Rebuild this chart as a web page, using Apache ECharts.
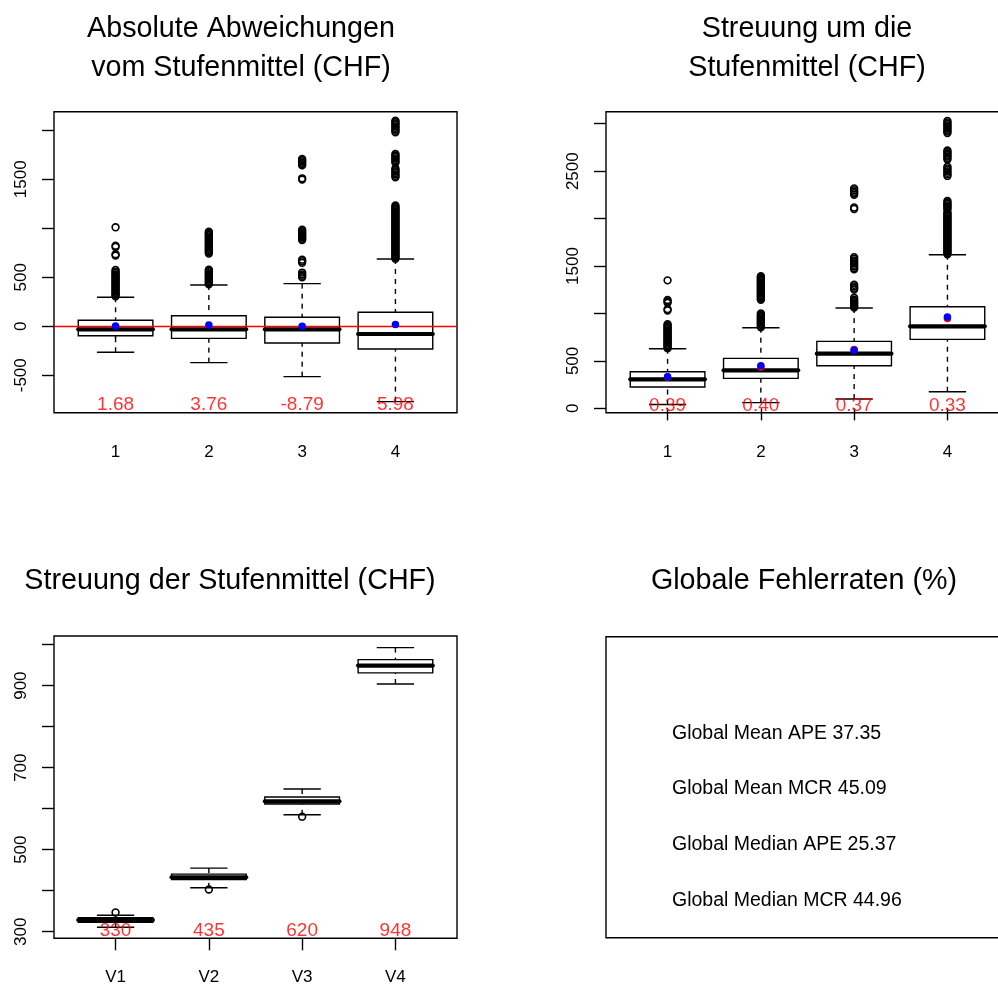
<!DOCTYPE html>
<html>
<head>
<meta charset="utf-8">
<script src="https://cdn.jsdelivr.net/npm/echarts@6/dist/echarts.min.js"></script>
<style>
  html, body { margin: 0; padding: 0; background: #fff; }
  #chart { width: 998px; height: 987px; }
</style>
</head>
<body>
<div id="chart"></div>
<script>
// ---------------- data ----------------
const groups = [1, 2, 3, 4];
const stageLabels = ['1', '2', '3', '4'];
const meanLabels = ['V1', 'V2', 'V3', 'V4'];

// Panel 1: Absolute Abweichungen vom Stufenmittel
// [lower whisker, Q1, median, Q3, upper whisker]
const absDevBoxes = [
  [-265, -96, -31, 61, 296],
  [-371, -123, -31, 108, 421],
  [-514, -170, -31, 92, 435],
  [-769, -232, -79, 143, 687]
];
const absDevOutliers = [
  [305, 318, 330, 342, 355, 368, 380, 392, 405, 418, 430, 442, 455, 468, 480, 492, 505, 518, 530, 545, 558, 575, 722, 735, 810, 822, 1010],
  [428, 440, 452, 465, 478, 490, 502, 515, 528, 540, 552, 565, 578, 742, 755, 768, 780, 792, 805, 818, 830, 842, 855, 868, 880, 892, 905, 918, 930, 942, 955, 965],
  [500, 515, 530, 548, 648, 665, 680, 880, 893, 906, 919, 932, 945, 958, 970, 985, 1498, 1510, 1642, 1655, 1668, 1682, 1695, 1708],
  [690, 702, 714, 726, 738, 750, 762, 774, 786, 798, 810, 822, 834, 846, 858, 870, 882, 894, 906, 918, 930, 942, 954, 966, 978, 990, 1002, 1014, 1026, 1038, 1050, 1062, 1074, 1086, 1098, 1110, 1122, 1134, 1146, 1158, 1170, 1182, 1194, 1206, 1218, 1232, 1520, 1535, 1550, 1565, 1580, 1595, 1610, 1668, 1683, 1698, 1713, 1728, 1743, 1758, 1980, 1995, 2010, 2025, 2040, 2055, 2070, 2085, 2098]
];
const absDevMeans = [2, 14, 0, 18];
const absDevNotes = ['1.68', '3.76', '-8.79', '5.98'];
const absDevTicks = [-500, 0, 500, 1000, 1500, 2000];
const absDevTickLabels = [-500, 0, 500, 1500];

// Panel 2: Streuung um die Stufenmittel
const spreadBoxes = [
  [40, 225, 306, 386, 628],
  [60, 316, 401, 527, 850],
  [98, 449, 576, 706, 1057],
  [175, 727, 864, 1071, 1619]
];
const spreadOutliers = [
  [632, 644, 657, 670, 683, 695, 708, 720, 733, 746, 758, 771, 784, 796, 809, 822, 835, 848, 861, 874, 886, 1032, 1046, 1112, 1126, 1142, 1349],
  [855, 868, 880, 893, 906, 919, 932, 945, 958, 970, 984, 1000, 1145, 1158, 1171, 1184, 1197, 1210, 1223, 1236, 1249, 1262, 1275, 1288, 1301, 1314, 1327, 1340, 1353, 1366, 1379, 1392],
  [1062, 1076, 1090, 1104, 1118, 1132, 1146, 1165, 1252, 1268, 1285, 1302, 1465, 1480, 1496, 1512, 1528, 1544, 1560, 1578, 1594, 2102, 2118, 2252, 2268, 2284, 2300, 2318],
  [1625, 1638, 1651, 1664, 1677, 1690, 1703, 1716, 1729, 1742, 1755, 1768, 1781, 1794, 1807, 1820, 1833, 1846, 1859, 1872, 1885, 1898, 1911, 1924, 1937, 1950, 1963, 1976, 1989, 2002, 2015, 2028, 2041, 2054, 2068, 2098, 2112, 2126, 2140, 2155, 2170, 2185, 2450, 2466, 2482, 2498, 2514, 2530, 2548, 2622, 2638, 2654, 2670, 2686, 2702, 2718, 2902, 2918, 2934, 2950, 2966, 2982, 2998, 3014, 3030]
];
const spreadMeansRed = [330, 435, 620, 948];
const spreadMeansBlue = [334, 448, 612, 964];
const spreadNotes = ['0.39', '0.40', '0.37', '0.33'];
const spreadTicks = [0, 500, 1000, 1500, 2000, 2500, 3000];
const spreadTickLabels = [0, 500, 1500, 2500];

// Panel 3: Streuung der Stufenmittel
const stageMeanBoxes = [
  [311, 323, 328.5, 334, 340],
  [407, 427, 432.7, 440.5, 455],
  [585, 611.5, 618, 628.5, 648],
  [904, 931, 948.8, 963.4, 992.7]
];
const stageMeanOutliers = [[347], [403], [580.5], []];
const stageMeanNotes = ['330', '435', '620', '948'];
const stageMeanTicks = [300, 400, 500, 600, 700, 800, 900, 1000];
const stageMeanTickLabels = [300, 500, 700, 900];

// Panel 4: Globale Fehlerraten
const globalRates = ['Global Mean APE 37.35', 'Global Mean MCR 45.09', 'Global Median APE 25.37', 'Global Median MCR 44.96'];

// ---------------- chart ----------------
const FONT = "'Liberation Sans', Arial, Helvetica, sans-serif";
const LW = 1.4;

function renderBox(params, api) {
  const x = api.value(0);
  const lo = api.coord([x, api.value(1)]);
  const q1 = api.coord([x, api.value(2)]);
  const md = api.coord([x, api.value(3)]);
  const q3 = api.coord([x, api.value(4)]);
  const hi = api.coord([x, api.value(5)]);
  const bw = api.size([0.4, 0])[0];
  const sw = api.size([0.2, 0])[0];
  const cx = md[0];
  const st = { stroke: '#000', lineWidth: LW, fill: null };
  return {
    type: 'group',
    children: [
      { type: 'line', shape: { x1: cx, y1: lo[1], x2: cx, y2: q1[1] }, style: Object.assign({}, st, { lineDash: [5, 5] }) },
      { type: 'line', shape: { x1: cx, y1: hi[1], x2: cx, y2: q3[1] }, style: Object.assign({}, st, { lineDash: [5, 5] }) },
      { type: 'line', shape: { x1: cx - sw, y1: lo[1], x2: cx + sw, y2: lo[1] }, style: st },
      { type: 'line', shape: { x1: cx - sw, y1: hi[1], x2: cx + sw, y2: hi[1] }, style: st },
      { type: 'rect', shape: { x: cx - bw, y: q3[1], width: 2 * bw, height: q1[1] - q3[1] }, style: Object.assign({}, st, { fill: '#fff' }) },
      { type: 'line', shape: { x1: cx - bw, y1: md[1], x2: cx + bw, y2: md[1] }, style: { stroke: '#000', lineWidth: 4.2, lineCap: 'round' } }
    ]
  };
}

function xAxisFor(gi, labels) {
  return {
    gridIndex: gi, type: 'value', min: 0.34, max: 4.66,
    axisLine: { show: false }, splitLine: { show: false },
    axisTick: { show: true, inside: false, length: 12, customValues: groups, lineStyle: { color: '#000', width: LW } },
    axisLabel: {
      show: true, customValues: groups, margin: 31, fontSize: 17, color: '#000', fontFamily: FONT,
      formatter: function (v) { return labels[Math.round(v) - 1]; }
    }
  };
}
function yAxisFor(gi, min, max, ticks, tickLabels) {
  return {
    gridIndex: gi, type: 'value', min: min, max: max,
    axisLine: { show: false }, splitLine: { show: false },
    axisTick: { show: true, inside: false, length: 12, customValues: ticks, lineStyle: { color: '#000', width: LW } },
    axisLabel: {
      show: true, customValues: tickLabels, rotate: 90, margin: 24, fontSize: 17, color: '#000', fontFamily: FONT,
      formatter: function (v) { return String(Math.round(v)); }
    }
  };
}

function boxSeries(gi, boxes) {
  return {
    type: 'custom', xAxisIndex: gi, yAxisIndex: gi, z: 2,
    renderItem: renderBox,
    encode: { x: 0, y: [1, 2, 3, 4, 5] },
    data: boxes.map(function (b, i) { return [groups[i]].concat(b); })
  };
}
function outlierSeries(gi, outs, extra) {
  const data = [];
  outs.forEach(function (arr, i) { arr.forEach(function (v) { data.push([groups[i], v]); }); });
  return Object.assign({
    type: 'scatter', xAxisIndex: gi, yAxisIndex: gi, z: 3,
    symbol: 'circle', symbolSize: 6.8,
    itemStyle: { color: 'rgba(0,0,0,0)', borderColor: '#000', borderWidth: 1.6, opacity: 1 },
    emphasis: { disabled: true }, silent: true,
    data: data
  }, extra || {});
}
function dotSeries(gi, vals, color, z) {
  return {
    type: 'scatter', xAxisIndex: gi, yAxisIndex: gi, z: z,
    symbol: 'circle', symbolSize: 7.5,
    itemStyle: { color: color, opacity: 1 }, silent: true,
    data: vals.map(function (v, i) { return [groups[i], v]; })
  };
}
function noteSeries(gi, notes, y) {
  return {
    type: 'scatter', xAxisIndex: gi, yAxisIndex: gi, z: 8,
    symbolSize: 1, itemStyle: { color: 'rgba(0,0,0,0)' }, silent: true,
    label: { show: true, position: 'inside', formatter: '{b}', color: '#FF0000', fontSize: 19, fontFamily: FONT },
    data: notes.map(function (t, i) { return { name: t, value: [groups[i], y] }; })
  };
}

const gridBase = { show: true, borderColor: '#000', borderWidth: LW, backgroundColor: 'rgba(0,0,0,0)', containLabel: false, outerBoundsMode: 'none' };

const titleStyle = { fontSize: 28.7, fontWeight: 'normal', color: '#000', fontFamily: FONT, lineHeight: 39 };

const option = {
  animation: false,
  backgroundColor: '#fff',
  textStyle: { fontFamily: FONT },
  title: [
    { text: 'Absolute Abweichungen\nvom Stufenmittel (CHF)', left: 241, top: 9.5, textAlign: 'center', padding: 0, textStyle: titleStyle },
    { text: 'Streuung um die\nStufenmittel (CHF)', left: 807, top: 9.5, textAlign: 'center', padding: 0, textStyle: titleStyle },
    { text: 'Streuung der Stufenmittel (CHF)', left: 230, top: 562, textAlign: 'center', padding: 0, textStyle: titleStyle },
    { text: 'Globale Fehlerraten (%)', left: 804, top: 561.5, textAlign: 'center', padding: 0, textStyle: titleStyle }
  ],
  grid: [
    Object.assign({ left: 54, top: 111.7, width: 403, height: 301 }, gridBase),
    Object.assign({ left: 606, top: 111.7, width: 403, height: 301 }, gridBase),
    Object.assign({ left: 54, top: 636, width: 403, height: 302.3 }, gridBase)
  ],
  xAxis: [xAxisFor(0, stageLabels), xAxisFor(1, stageLabels), xAxisFor(2, meanLabels)],
  yAxis: [
    yAxisFor(0, -882, 2190, absDevTicks, absDevTickLabels),
    yAxisFor(1, -46, 3127, spreadTicks, spreadTickLabels),
    yAxisFor(2, 283.9, 1021, stageMeanTicks, stageMeanTickLabels)
  ],
  series: [
    boxSeries(0, absDevBoxes),
    outlierSeries(0, absDevOutliers, {
      markLine: {
        silent: true, symbol: ['none', 'none'], z: 5, animation: false,
        label: { show: false },
        lineStyle: { color: '#FF0000', width: LW, type: 'solid' },
        data: [{ yAxis: 0 }]
      }
    }),
    dotSeries(0, absDevMeans, '#0000FF', 6),
    noteSeries(0, absDevNotes, -800),

    boxSeries(1, spreadBoxes),
    outlierSeries(1, spreadOutliers),
    dotSeries(1, spreadMeansRed, '#FF0000', 5),
    dotSeries(1, spreadMeansBlue, '#0000FF', 6),
    noteSeries(1, spreadNotes, 32),

    boxSeries(2, stageMeanBoxes),
    outlierSeries(2, stageMeanOutliers),
    noteSeries(2, stageMeanNotes, 303)
  ],
  graphic: [
    { type: 'rect', shape: { x: 606, y: 636.7, width: 403, height: 301 }, style: { fill: null, stroke: '#000', lineWidth: LW } }
  ].concat(globalRates.map(function (t, i) {
    return {
      type: 'text', x: 672, y: [733.3, 788.3, 845, 901][i],
      style: { text: t, fill: '#000', fontSize: 19.5, fontFamily: FONT, textAlign: 'left', textVerticalAlign: 'middle' }
    };
  }))
};

const chart = echarts.init(document.getElementById('chart'), null, { renderer: 'canvas' });
chart.setOption(option);
</script>
</body>
</html>
